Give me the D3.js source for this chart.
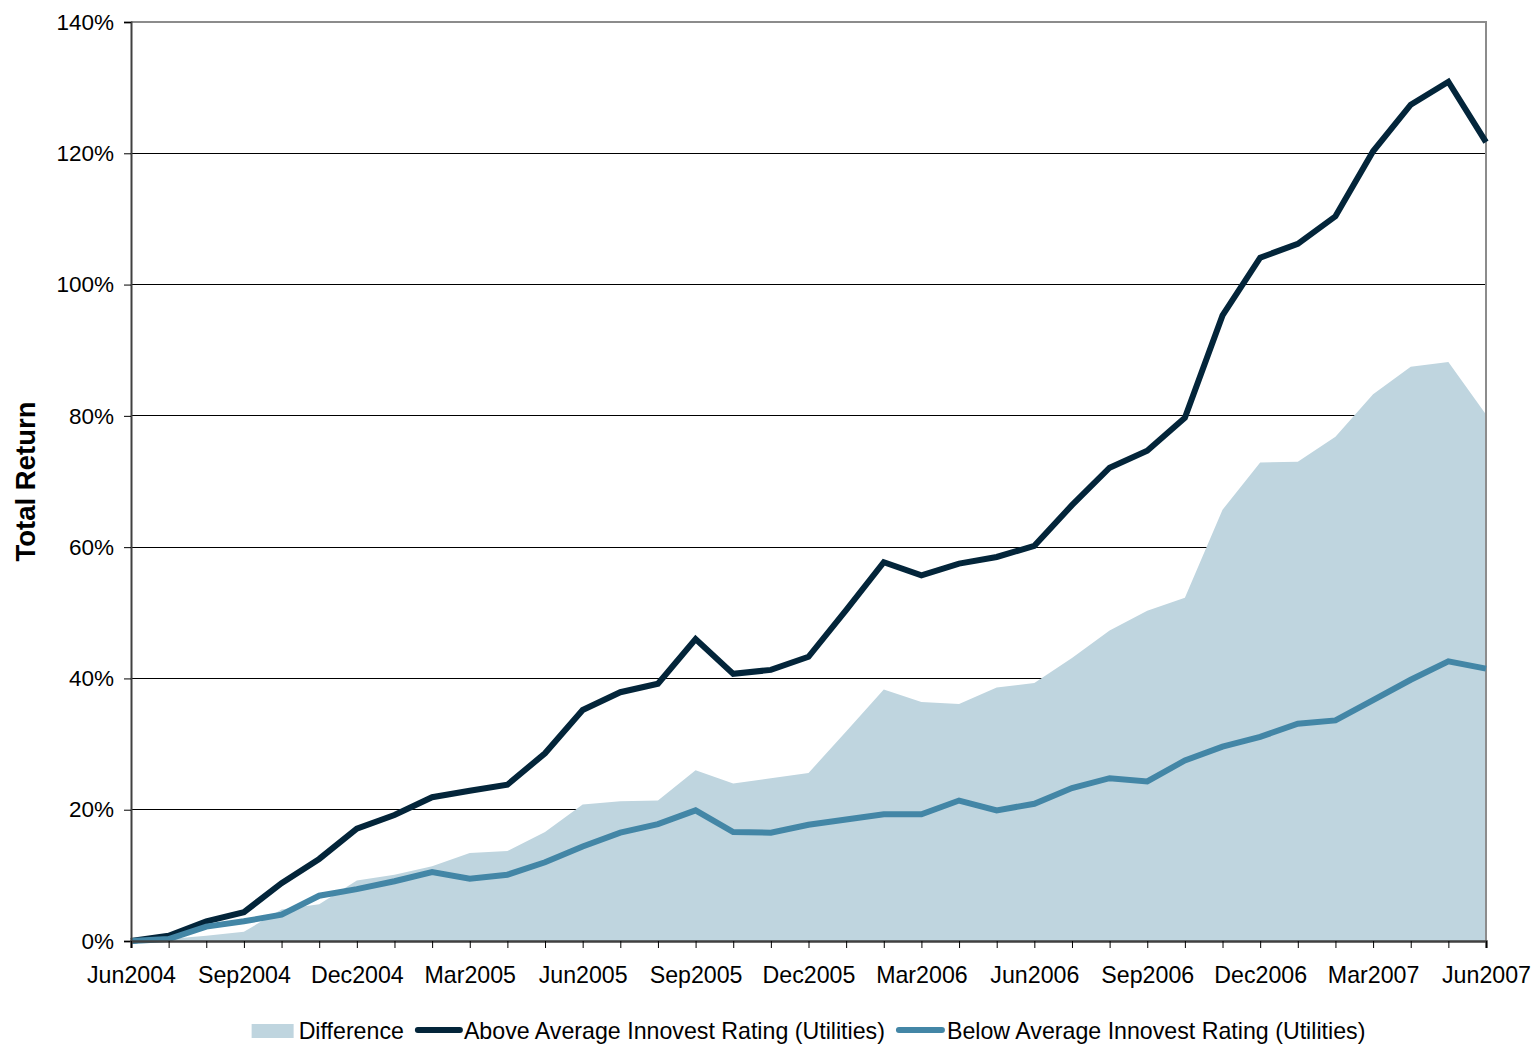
<!DOCTYPE html>
<html>
<head>
<meta charset="utf-8">
<script src="https://cdn.jsdelivr.net/npm/d3@7"></script>
<style>
  html, body { margin: 0; padding: 0; background: #fff; }
  svg { display: block; font-family: "Liberation Sans", Arial, sans-serif; }
</style>
</head>
<body>
<svg id="chart" width="1531" height="1044"></svg>
<script>
// Monthly observations, Jun 2004 – Jun 2007
const months = [
  "Jun2004","Jul2004","Aug2004","Sep2004","Oct2004","Nov2004","Dec2004",
  "Jan2005","Feb2005","Mar2005","Apr2005","May2005","Jun2005","Jul2005",
  "Aug2005","Sep2005","Oct2005","Nov2005","Dec2005","Jan2006","Feb2006",
  "Mar2006","Apr2006","May2006","Jun2006","Jul2006","Aug2006","Sep2006",
  "Oct2006","Nov2006","Dec2006","Jan2007","Feb2007","Mar2007","Apr2007",
  "May2007","Jun2007"
];

// Cumulative total return, percent
const aboveAverage = [
  0, 0.8, 3.0, 4.4, 8.8, 12.5, 17.1, 19.2, 21.9, 22.9, 23.8, 28.6, 35.2,
  37.9, 39.2, 46.0, 40.7, 41.3, 43.3, 50.4, 57.7, 55.7, 57.5, 58.5, 60.2,
  66.4, 72.1, 74.7, 79.7, 95.3, 104.1, 106.2, 110.4, 120.3, 127.4, 130.9, 121.7
];
const belowAverage = [
  0, 0.3, 2.2, 3.0, 4.0, 6.9, 7.9, 9.1, 10.5, 9.5, 10.1, 12.0, 14.4,
  16.5, 17.8, 19.9, 16.6, 16.5, 17.7, 18.5, 19.3, 19.3, 21.4, 19.9, 20.9,
  23.3, 24.8, 24.3, 27.5, 29.6, 31.1, 33.1, 33.6, 36.7, 39.8, 42.6, 41.5
];
const difference = [
  0, 0.3, 0.8, 1.4, 4.8, 5.6, 9.2, 10.1, 11.4, 13.4, 13.7, 16.6, 20.8,
  21.3, 21.4, 26.0, 24.0, 24.8, 25.6, 31.9, 38.3, 36.4, 36.1, 38.6, 39.3,
  43.1, 47.3, 50.3, 52.3, 65.7, 72.9, 73.0, 76.8, 83.3, 87.5, 88.2, 80.2
];

const yTicks = [0, 20, 40, 60, 80, 100, 120, 140];
const xLabelEvery = 3;

const legendItems = [
  { label: "Difference", kind: "area" },
  { label: "Above Average Innovest Rating (Utilities)", kind: "above" },
  { label: "Below Average Innovest Rating (Utilities)", kind: "below" }
];

const colors = { area: "#bfd5df", above: "#03253a", below: "#4386a6" };

const svg = d3.select("#chart");
const margin = { left: 131, right: 1486, top: 22, bottom: 941 };
const labelFont = "Liberation Sans, Arial, sans-serif";

const x = d3.scalePoint().domain(months).range([margin.left, margin.right]);
const y = d3.scaleLinear().domain([0, 140]).range([margin.bottom, margin.top]);

// gridlines
svg.append("g")
  .selectAll("line")
  .data(yTicks.filter(t => t > 0 && t < 140))
  .join("line")
  .attr("x1", margin.left).attr("x2", margin.right)
  .attr("y1", d => y(d)).attr("y2", d => y(d))
  .attr("stroke", "#000").attr("stroke-width", 1)
  .attr("shape-rendering", "crispEdges");

// difference area
const area = d3.area()
  .x((d, i) => x(months[i]))
  .y0(y(0))
  .y1(d => y(d));
svg.append("path")
  .datum(difference)
  .attr("d", area)
  .attr("fill", colors.area);

// plot frame (top and right)
svg.append("path")
  .attr("d", `M${margin.left},${margin.top}H${margin.right}V${margin.bottom}`)
  .attr("fill", "none")
  .attr("stroke", "#8c8c8c")
  .attr("stroke-width", 2);

// series lines
const line = d3.line()
  .x((d, i) => x(months[i]))
  .y(d => y(d));

svg.append("path")
  .datum(aboveAverage)
  .attr("d", line)
  .attr("fill", "none")
  .attr("stroke", colors.above)
  .attr("stroke-width", 6)
  .attr("stroke-linejoin", "miter");

svg.append("path")
  .datum(belowAverage)
  .attr("d", line)
  .attr("fill", "none")
  .attr("stroke", colors.below)
  .attr("stroke-width", 6)
  .attr("stroke-linejoin", "miter");

// y axis
const yAxis = d3.axisLeft(y)
  .tickValues(yTicks)
  .tickSize(7)
  .tickPadding(10)
  .tickFormat(d => d + "%");
const gy = svg.append("g")
  .attr("transform", `translate(${margin.left},0)`)
  .call(yAxis);
gy.select(".domain").attr("stroke", "#404040").attr("stroke-width", 2);
gy.selectAll(".tick line").attr("stroke", "#000").attr("stroke-width", 1);
gy.selectAll(".tick text")
  .attr("font-size", 22.5)
  .attr("font-family", labelFont)
  .attr("fill", "#000");

// x axis
const xAxis = d3.axisBottom(x)
  .tickSize(7)
  .tickPadding(19)
  .tickFormat((d, i) => i % xLabelEvery === 0 ? d : "");
const gx = svg.append("g")
  .attr("transform", `translate(0,${margin.bottom})`)
  .call(xAxis);
gx.select(".domain").attr("stroke", "#404040").attr("stroke-width", 2.5);
gx.selectAll(".tick line").attr("stroke", "#000").attr("stroke-width", 1);
gx.selectAll(".tick text")
  .attr("font-size", 23.2)
  .attr("font-family", labelFont)
  .attr("fill", "#000");

// y axis title
svg.append("text")
  .attr("transform", `translate(35,${(margin.top + margin.bottom) / 2}) rotate(-90)`)
  .attr("text-anchor", "middle")
  .attr("font-size", 27.5)
  .attr("font-weight", "bold")
  .attr("font-family", labelFont)
  .attr("fill", "#000")
  .text("Total Return");

// legend, centred under the plot
const legend = svg.append("g");
const legendY = 1031;
let cursor = 0;
const swatchW = { area: 42, above: 48, below: 49 };
const gaps = [5, 1, 2];
const itemGap = 11;
legendItems.forEach((item, i) => {
  const g = legend.append("g").attr("transform", `translate(${cursor},0)`);
  if (item.kind === "area") {
    g.append("rect")
      .attr("x", 0).attr("y", legendY - 7)
      .attr("width", swatchW.area).attr("height", 14)
      .attr("fill", colors.area);
  } else {
    g.append("line")
      .attr("x1", 3).attr("x2", swatchW[item.kind] - 3)
      .attr("y1", legendY - 1).attr("y2", legendY - 1)
      .attr("stroke", colors[item.kind])
      .attr("stroke-width", 6)
      .attr("stroke-linecap", "round");
  }
  const t = g.append("text")
    .attr("x", swatchW[item.kind] + gaps[i])
    .attr("y", legendY + 8)
    .attr("font-size", 23.2)
    .attr("font-family", labelFont)
    .attr("fill", "#000")
    .text(item.label);
  cursor += swatchW[item.kind] + gaps[i] + t.node().getComputedTextLength() + itemGap;
});
const legendWidth = cursor - itemGap;
legend.attr("transform", `translate(${(margin.left + margin.right) / 2 - legendWidth / 2},0)`);
</script>
</body>
</html>
